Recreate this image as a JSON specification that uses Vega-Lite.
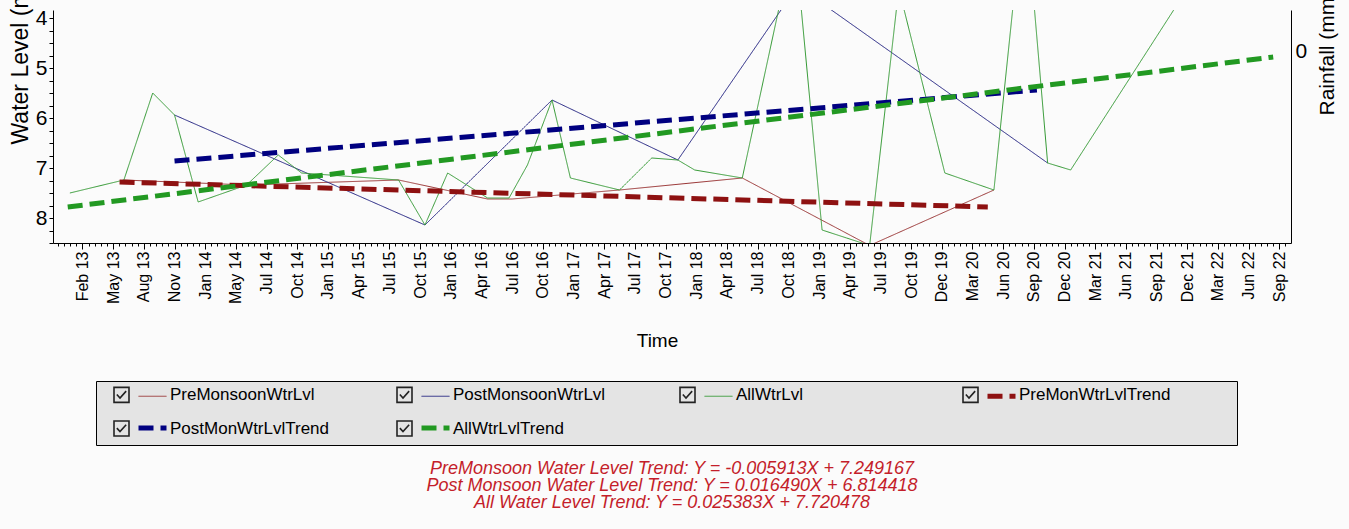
{
  "$schema": "https://vega.github.io/schema/vega-lite/v6.json",
  "autosize": {"type": "none"},
  "width": 1238,
  "height": 233,
  "padding": {"left": 53, "top": 10, "right": 58, "bottom": 286},
  "background": "#fbfbfb",
  "config": {"view": {"stroke": null}, "font": "Liberation Sans"},
  "title": {
    "text": [
      "PreMonsoon Water Level Trend: Y = -0.005913X + 7.249167",
      "Post Monsoon Water Level Trend: Y = 0.016490X + 6.814418",
      "All Water Level Trend: Y = 0.025383X + 7.720478"
    ],
    "orient": "bottom",
    "frame": "group",
    "anchor": "middle",
    "baseline": "top",
    "offset": 14,
    "lineHeight": 17,
    "font": "Liberation Sans",
    "fontSize": 18,
    "fontStyle": "italic",
    "fontWeight": "normal",
    "color": "#c41e2a"
  },
  "datasets": {
    "wl": [
      {"series": "PreMonsoonWtrLvl", "t": 1.35, "wl": 7.24},
      {"series": "PreMonsoonWtrLvl", "t": 5.35, "wl": 7.34},
      {"series": "PreMonsoonWtrLvl", "t": 10.3, "wl": 7.24},
      {"series": "PreMonsoonWtrLvl", "t": 13.2, "wl": 7.62},
      {"series": "PreMonsoonWtrLvl", "t": 14.0, "wl": 7.62},
      {"series": "PreMonsoonWtrLvl", "t": 17.5, "wl": 7.44},
      {"series": "PreMonsoonWtrLvl", "t": 21.5, "wl": 7.2},
      {"series": "PreMonsoonWtrLvl", "t": 25.65, "wl": 8.55},
      {"series": "PreMonsoonWtrLvl", "t": 29.7, "wl": 7.44},
      {"series": "PostMonsoonWtrLvl", "t": 3.0, "wl": 5.94},
      {"series": "PostMonsoonWtrLvl", "t": 11.16, "wl": 8.14},
      {"series": "PostMonsoonWtrLvl", "t": 15.3, "wl": 5.64},
      {"series": "PostMonsoonWtrLvl", "t": 19.4, "wl": 6.84},
      {"series": "PostMonsoonWtrLvl", "t": 23.3, "wl": 3.36},
      {"series": "PostMonsoonWtrLvl", "t": 31.45, "wl": 6.9},
      {"series": "AllWtrLvl", "t": -0.41, "wl": 7.5},
      {"series": "AllWtrLvl", "t": 1.35, "wl": 7.24},
      {"series": "AllWtrLvl", "t": 2.29, "wl": 5.5},
      {"series": "AllWtrLvl", "t": 3.0, "wl": 5.94},
      {"series": "AllWtrLvl", "t": 3.77, "wl": 7.68},
      {"series": "AllWtrLvl", "t": 5.35, "wl": 7.34},
      {"series": "AllWtrLvl", "t": 6.38, "wl": 6.74},
      {"series": "AllWtrLvl", "t": 7.14, "wl": 7.1},
      {"series": "AllWtrLvl", "t": 10.3, "wl": 7.24},
      {"series": "AllWtrLvl", "t": 11.16, "wl": 8.14},
      {"series": "AllWtrLvl", "t": 11.9, "wl": 7.1},
      {"series": "AllWtrLvl", "t": 13.2, "wl": 7.6},
      {"series": "AllWtrLvl", "t": 13.9, "wl": 7.6},
      {"series": "AllWtrLvl", "t": 14.5, "wl": 6.94},
      {"series": "AllWtrLvl", "t": 15.3, "wl": 5.64},
      {"series": "AllWtrLvl", "t": 15.9, "wl": 7.2},
      {"series": "AllWtrLvl", "t": 17.5, "wl": 7.44},
      {"series": "AllWtrLvl", "t": 18.55, "wl": 6.8},
      {"series": "AllWtrLvl", "t": 19.4, "wl": 6.84},
      {"series": "AllWtrLvl", "t": 19.95, "wl": 7.04},
      {"series": "AllWtrLvl", "t": 21.5, "wl": 7.2},
      {"series": "AllWtrLvl", "t": 23.2, "wl": 2.37},
      {"series": "AllWtrLvl", "t": 24.1, "wl": 8.24},
      {"series": "AllWtrLvl", "t": 24.9, "wl": 8.4},
      {"series": "AllWtrLvl", "t": 25.65, "wl": 8.55},
      {"series": "AllWtrLvl", "t": 26.6, "wl": 3.41},
      {"series": "AllWtrLvl", "t": 28.1, "wl": 7.1},
      {"series": "AllWtrLvl", "t": 29.7, "wl": 7.44},
      {"series": "AllWtrLvl", "t": 30.7, "wl": 1.53},
      {"series": "AllWtrLvl", "t": 31.45, "wl": 6.9},
      {"series": "AllWtrLvl", "t": 32.2, "wl": 7.04},
      {"series": "AllWtrLvl", "t": 38.8, "wl": 0.75},
      {"series": "PreMonWtrLvlTrend", "t": 1.21, "wl": 7.28},
      {"series": "PreMonWtrLvlTrend", "t": 29.5, "wl": 7.78},
      {"series": "PostMonWtrLvlTrend", "t": 3.0, "wl": 6.86},
      {"series": "PostMonWtrLvlTrend", "t": 31.1, "wl": 5.44},
      {"series": "AllWtrLvlTrend", "t": -0.48, "wl": 7.78},
      {"series": "AllWtrLvlTrend", "t": 38.8, "wl": 4.78}
    ]
  },
  "resolve": {"scale": {"y": "independent"}, "axis": {"x": "independent"}},
  "layer": [
    {
      "data": {"name": "wl"},
      "mark": {"type": "point", "opacity": 0, "filled": false},
      "encoding": {
        "x": {
          "field": "t", "type": "quantitative",
          "scale": {"domain": [-0.96, 39.38], "nice": false, "zero": false},
          "axis": {"orient": "bottom", "tickCount": 200, "labels": false, "domain": false, "ticks": true, "tickSize": 3, "tickColor": "#000", "title": null, "grid": false}
        },
        "y": {
          "field": "wl", "type": "quantitative",
          "scale": {"domain": [3.84, 8.5], "reverse": true, "nice": false, "zero": false},
          "axis": null
        },
        "color": {
          "field": "series", "type": "nominal",
          "sort": ["PreMonsoonWtrLvl", "PostMonsoonWtrLvl", "AllWtrLvl", "PreMonWtrLvlTrend", "PostMonWtrLvlTrend", "AllWtrLvlTrend"],
          "scale": {"range": ["#222222", "#222222", "#222222", "#222222", "#222222", "#222222"]},
          "legend": {
            "orient": "none", "legendX": 43, "legendY": 371,
            "direction": "horizontal", "columns": 4, "gridAlign": "all",
            "title": " ", "titleOrient": "right", "titlePadding": 62, "titleFontSize": 2,
            "padding": 5, "rowPadding": 11, "columnPadding": 54,
            "symbolType": "M-1,-1H1V1H-1Z M-0.62,-0.05L-0.2,0.42L0.62,-0.5",
            "symbolSize": 225, "symbolStrokeWidth": 1.6, "symbolFillColor": "white", "symbolOpacity": 1,
            "symbolOffset": 12,
            "labelFont": "Liberation Sans", "labelFontSize": 17, "labelColor": "#000", "labelOffset": 40, "labelLimit": 500,
            "strokeColor": "#000", "fillColor": "#e4e4e4",
            "encode": {
              "symbols": {"update": {"fill": {"value": "white"}, "opacity": {"value": 1}}}
            }
          }
        }
      }
    },
    {
      "data": {"name": "wl"},
      "mark": {"type": "line", "clip": true, "strokeCap": "butt"},
      "encoding": {
        "x": {
          "field": "t", "type": "quantitative",
          "scale": {"domain": [-0.96, 39.38], "nice": false, "zero": false},
          "axis": {
            "orient": "bottom",
            "values": [0,1,2,3,4,5,6,7,8,9,10,11,12,13,14,15,16,17,18,19,20,21,22,23,24,25,26,27,28,29,30,31,32,33,34,35,36,37,38,39],
            "labelExpr": "['Feb 13','May 13','Aug 13','Nov 13','Jan 14','May 14','Jul 14','Oct 14','Jan 15','Apr 15','Jul 15','Oct 15','Jan 16','Apr 16','Jul 16','Oct 16','Jan 17','Apr 17','Jul 17','Oct 17','Jan 18','Apr 18','Jul 18','Oct 18','Jan 19','Apr 19','Jul 19','Oct 19','Dec 19','Mar 20','Jun 20','Sep 20','Dec 20','Mar 21','Jun 21','Sep 21','Dec 21','Mar 22','Jun 22','Sep 22'][datum.value]",
            "labelAngle": 270, "labelAlign": "right", "labelBaseline": "middle",
            "labelFont": "Liberation Sans", "labelFontSize": 16, "labelColor": "#000", "labelPadding": 2,
            "labelOverlap": false, "labelFlush": false,
            "tickSize": 6, "tickColor": "#000", "domainColor": "#000", "grid": false,
            "title": "Time", "titleFont": "Liberation Sans", "titleFontSize": 19, "titleFontWeight": "normal", "titleColor": "#000",
            "titleX": 604, "titleY": 88, "titleAlign": "center", "titleBaseline": "top"
          }
        },
        "y": {
          "field": "wl", "type": "quantitative",
          "scale": {"domain": [3.84, 8.5], "reverse": true, "nice": false, "zero": false},
          "axis": {
            "orient": "left",
            "values": [4, 4.25, 4.5, 4.75, 5, 5.25, 5.5, 5.75, 6, 6.25, 6.5, 6.75, 7, 7.25, 7.5, 7.75, 8, 8.25, 8.5],
            "labelExpr": "datum.value % 1 == 0 ? format(datum.value, 'd') : ''",
            "labelFont": "Liberation Sans", "labelFontSize": 21, "labelColor": "#000", "labelPadding": 2, "labelOverlap": false,
            "tickSize": 4, "tickColor": "#000", "domainColor": "#000", "grid": false,
            "title": "Water Level (mbgl)", "titleFont": "Liberation Sans", "titleFontSize": 23, "titleFontWeight": "normal", "titleColor": "#000",
            "titleAngle": 270, "titleX": -26, "titleY": 134, "titleAlign": "left", "titleBaseline": "alphabetic"
          }
        },
        "stroke": {
          "field": "series", "type": "nominal",
          "scale": {
            "domain": ["PreMonsoonWtrLvl", "PostMonsoonWtrLvl", "AllWtrLvl", "PreMonWtrLvlTrend", "PostMonWtrLvlTrend", "AllWtrLvlTrend"],
            "range": ["#993333", "#202080", "#339933", "#8e1111", "#000080", "#229922"]
          },
          "legend": {
            "orient": "none", "legendX": 83, "legendY": 369.5,
            "direction": "horizontal", "columns": 4, "gridAlign": "all",
            "title": null, "padding": 0, "rowPadding": 5, "columnPadding": 55,
            "symbolType": "stroke", "symbolSize": 784, "symbolStrokeWidth": 1.5,
            "labelFont": "Liberation Sans", "labelFontSize": 17, "labelOffset": 27, "labelLimit": 500, "labelOpacity": 0,
            "encode": {
              "symbols": {
                "update": {
                  "strokeWidth": {"signal": "indexof(datum.value, 'Trend') >= 0 ? 5 : 1.2"},
                  "strokeDash": {"signal": "indexof(datum.value, 'Trend') >= 0 ? [12, 5] : [1, 0]"}
                }
              }
            }
          }
        },
        "strokeDash": {
          "field": "series", "type": "nominal",
          "scale": {
            "domain": ["PreMonsoonWtrLvl", "PostMonsoonWtrLvl", "AllWtrLvl", "PreMonWtrLvlTrend", "PostMonWtrLvlTrend", "AllWtrLvlTrend"],
            "range": [[1, 0], [1, 0], [1, 0], [15, 7], [15, 7], [15, 7]]
          },
          "legend": null
        },
        "strokeWidth": {
          "field": "series", "type": "nominal",
          "scale": {
            "type": "ordinal",
            "domain": ["PreMonsoonWtrLvl", "PostMonsoonWtrLvl", "AllWtrLvl", "PreMonWtrLvlTrend", "PostMonWtrLvlTrend", "AllWtrLvlTrend"],
            "range": [1, 1, 1, 5, 5, 5]
          },
          "legend": null
        }
      }
    },
    {
      "data": {"values": [{}]},
      "mark": {"type": "rule", "opacity": 0},
      "encoding": {
        "y": {
          "datum": 0, "type": "quantitative",
          "scale": {"domain": [-4.55, 1], "nice": false, "zero": false},
          "axis": {
            "orient": "right", "values": [0], "ticks": false,
            "labelFont": "Liberation Sans", "labelFontSize": 21, "labelColor": "#000", "labelPadding": 4,
            "domainColor": "#000", "grid": false,
            "title": "Rainfall (mm)", "titleFont": "Liberation Sans", "titleFontSize": 21, "titleFontWeight": "normal", "titleColor": "#000",
            "titleAngle": 270, "titleX": 42, "titleY": 105, "titleAlign": "left", "titleBaseline": "alphabetic"
          }
        }
      }
    }
  ]
}
